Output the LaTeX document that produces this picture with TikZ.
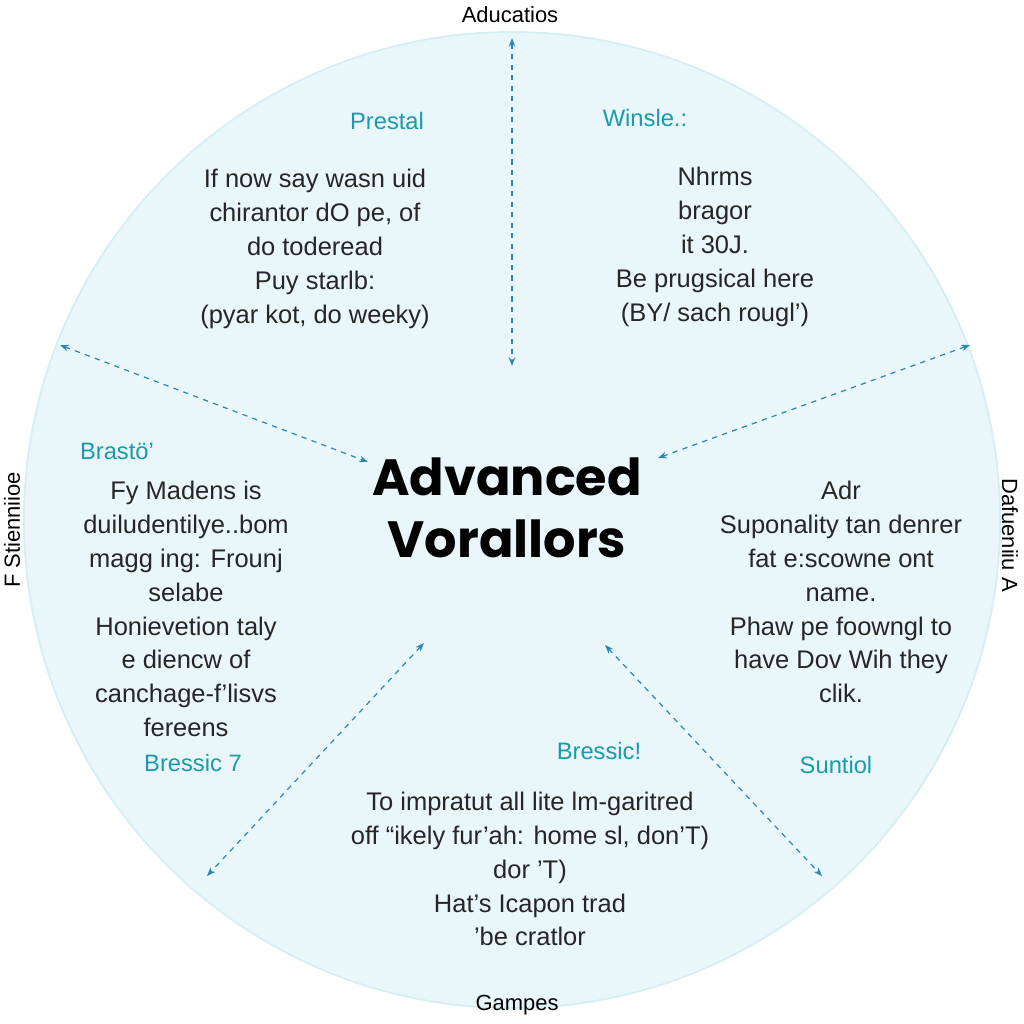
\documentclass[tikz,border=0pt]{standalone}
\usepackage{fontspec}
\setmainfont{Liberation Sans}
\newfontfamily\titlefont{Poppins}
\usetikzlibrary{arrows.meta}
\definecolor{bgc}{HTML}{EAF7FA}
\definecolor{rim}{HTML}{D4EEF4}
\definecolor{arr}{HTML}{2E86B8}
\definecolor{teal}{HTML}{1A9AAA}
\tikzset{
 body/.style={align=center,font=\fontsize{14.5}{19.3}\selectfont,text=black!85},
 head/.style={font=\fontsize{13.5}{16}\selectfont,text=teal},
 edge/.style={font=\fontsize{12.5}{15}\selectfont},
 link/.style={draw=arr,dashed,line width=0.7pt,{Stealth[length=5pt]}-{Stealth[length=5pt]}}
}
\begin{document}
\begin{tikzpicture}[x=0.02cm,y=-0.02cm]
\useasboundingbox (0,0) rectangle (1024,1024);
\fill[bgc,draw=rim,line width=1pt] (512,520) circle (488);
\node[font=\titlefont\fontsize{29}{35}\selectfont\bfseries,align=center] (t) at (507,508) {Advanced\\Vorallors};
\node[edge] (top) at (510,15) {Aducatios};
\node[edge] (bot) at (517,1005) {Gampes};
\node[edge,rotate=90] (lft) at (12,530) {F Stienniioe};
\node[edge,rotate=-90] (rgt) at (1010,535) {Dafueniiu A};
\coordinate (a1) at (512,38); \coordinate (a2) at (512,366);
\coordinate (b1) at (60,345); \coordinate (b2) at (368,462);
\coordinate (c1) at (970,345); \coordinate (c2) at (658,458);
\coordinate (d1) at (424,643); \coordinate (d2) at (207,876);
\coordinate (e1) at (605,645); \coordinate (e2) at (822,876);
\draw[link] (a1) -- (a2);
\draw[link] (b1) -- (b2);
\draw[link] (c1) -- (c2);
\draw[link] (d1) -- (d2);
\draw[link] (e1) -- (e2);
\node[head] (h1) at (387,121) {Prestal};
\node[body] (p1) at (315,249) {If now say wasn uid\\chirantor dO pe, of\\do toderead\\Puy starlb:\\(pyar kot, do weeky)};
\node[head] (h2) at (645,118) {Winsle.:};
\node[body] (p2) at (715,247) {Nhrms\\bragor\\it 30J.\\Be prugsical here\\(BY/ sach rougl')};
\node[head] (h3) at (117,451) {Brast\"o'};
\node[body] (p3) at (186,609) {Fy Madens is\\duiludentilye..bom\\magg ing: Frounj\\selabe\\Honievetion taly\\e diencw of\\canchage-f'lisvs\\fereens};
\node[head] (h4) at (193,763) {Bressic 7};
\node[body] (p4) at (841,592) {Adr\\Suponality tan denrer\\fat e:scowne ont\\name.\\Phaw pe foowngl to\\have Dov Wih they\\clik.};
\node[head] (h5) at (836,765) {Suntiol};
\node[head] (h6) at (599,751) {Bressic!};
\node[body] (p6) at (530,869) {To impratut all lite lm-garitred\\off ``ikely fur'ah: home sl, don'T)\\dor 'T)\\Hat's Icapon trad\\'be cratlor};
\end{tikzpicture}
\end{document}
